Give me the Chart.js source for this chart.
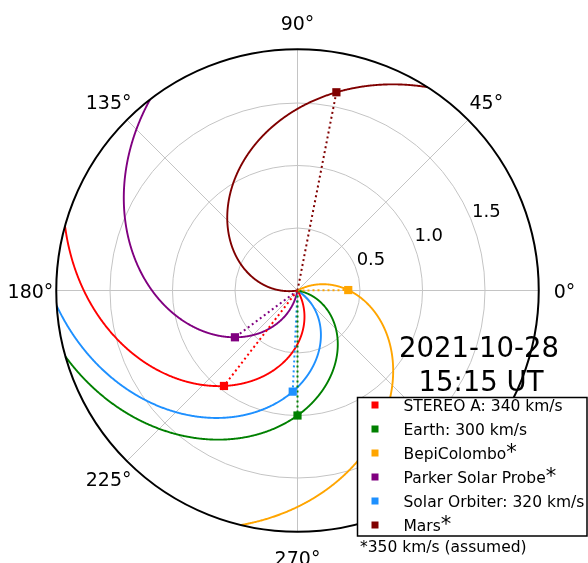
<!DOCTYPE html>
<html><head><meta charset="utf-8">
<script src="https://cdn.jsdelivr.net/npm/chart.js@4"></script>
<style>html,body{margin:0;padding:0;background:#fff;} #wrap{width:588px;height:563px;position:relative;}</style>
</head><body><div id="wrap"><canvas id="c" width="588" height="563"></canvas></div>
<script>
// ---- data ----
const bodies = ['STEREO A', 'Earth', 'BepiColombo', 'Parker Solar Probe', 'Solar Orbiter', 'Mars'];
const distances = [0.964, 1.0, 0.406, 0.625, 0.81, 1.616];      // AU
const longitudes = [232.4, 270.0, 0.5, 216.8, 267.3, 78.9];      // deg
const windSpeeds = [340, 300, 350, 350, 320, 350];               // km/s
const speedAssumed = [false, false, true, true, false, true];
const bodyColors = ['red', 'green', 'orange', 'purple', 'dodgerblue', 'maroon'];
const radialTicks = [0.5, 1.0, 1.5];
const radialTickLabels = ['0.5', '1.0', '1.5'];
const angleTicks = [0, 45, 90, 135, 180, 225, 270, 315];
const dateLines = ['2021-10-28', '15:15 UT'];
const footnote = '*350 km/s (assumed)';
const rMax = 1.93;
const rotK = 23900; // solar rotation rate x 1 AU, in deg·(km/s)/AU

const FONT = '"DejaVu Sans", sans-serif';
const rad = d => d * Math.PI / 180;
const pol = (r, phi) => ({ x: r * Math.cos(rad(phi)), y: r * Math.sin(rad(phi)) });

const datasets = [];
bodies.forEach((b, i) => {
  const spiral = [];
  const n = Math.round(rMax / 0.005);
  for (let k = 0; k <= n; k++) {
    const r = rMax * k / n;
    spiral.push(pol(r, longitudes[i] + rotK / windSpeeds[i] * (distances[i] - r)));
  }
  datasets.push({ label: b + ' marker', data: [pol(distances[i], longitudes[i])], pointStyle: 'rect',
    pointRadius: 5.8, backgroundColor: bodyColors[i], borderWidth: 0, order: 0 });
  datasets.push({ label: b + ' spiral', data: spiral, showLine: true, borderColor: bodyColors[i],
    borderWidth: 1.9, pointRadius: 0, fill: false, tension: 0.001, order: 2 });
  datasets.push({ label: b + ' radial', data: [pol(0, longitudes[i]), pol(distances[i], longitudes[i])],
    showLine: true, borderColor: bodyColors[i], borderWidth: 2, borderDash: [2, 3], pointRadius: 0, fill: false, order: 1 });
});

const cx = 297.5, cy = 290.5, pxPerAU = 125, W = 588, H = 563;

const polarGrid = {
  id: 'polarGrid',
  beforeDatasetsDraw(chart) {
    const ctx = chart.ctx, xs = chart.scales.x, ys = chart.scales.y;
    const X = v => xs.getPixelForValue(v), Y = v => ys.getPixelForValue(v);
    const ox = X(0), oy = Y(0);
    ctx.save();
    ctx.strokeStyle = '#c4c4c4'; ctx.lineWidth = 1;
    radialTicks.forEach(r => {
      ctx.beginPath(); ctx.arc(ox, oy, X(r) - ox, 0, 2 * Math.PI); ctx.stroke();
    });
    angleTicks.forEach(a => {
      const p = pol(rMax, a);
      ctx.beginPath(); ctx.moveTo(ox, oy); ctx.lineTo(X(p.x), Y(p.y)); ctx.stroke();
    });
    ctx.fillStyle = '#000'; ctx.textAlign = 'center'; ctx.textBaseline = 'alphabetic';
    ctx.font = '18px ' + FONT;
    radialTicks.forEach((r, i) => {
      const p = pol(r + 0.136, 22.5);
      ctx.fillText(radialTickLabels[i], X(p.x), Y(p.y) + 5);
    });
    ctx.font = '19px ' + FONT;
    angleTicks.forEach(a => {
      const p = pol(rMax * 1.107, a);
      ctx.fillText(a + '°', X(p.x), Y(p.y) + 7);
    });
    ctx.restore();
  },
  afterDatasetsDraw(chart) {
    const ctx = chart.ctx, xs = chart.scales.x, ys = chart.scales.y;
    const ox = xs.getPixelForValue(0), oy = ys.getPixelForValue(0);
    ctx.save();
    ctx.strokeStyle = '#000'; ctx.lineWidth = 2;
    ctx.beginPath(); ctx.arc(ox, oy, xs.getPixelForValue(rMax) - ox, 0, 2 * Math.PI); ctx.stroke();
    // date text
    ctx.fillStyle = '#000'; ctx.textAlign = 'center'; ctx.textBaseline = 'alphabetic';
    ctx.font = '27.5px ' + FONT;
    ctx.fillText(dateLines[0], 479, 357);
    ctx.fillText(dateLines[1], 481, 391);
    // legend box
    ctx.fillStyle = '#fff';
    ctx.fillRect(357.5, 397, 230, 139);
    ctx.strokeStyle = '#000'; ctx.lineWidth = 1.5;
    ctx.strokeRect(357.5, 397.5, 229.5, 138.5);
    ctx.textAlign = 'left';
    bodies.forEach((b, i) => {
      const y = 405 + 24 * i;
      ctx.fillStyle = bodyColors[i];
      ctx.fillRect(371.5, y - 3.5, 7, 7);
      ctx.fillStyle = '#000';
      ctx.font = '15.5px ' + FONT;
      const txt = speedAssumed[i] ? b : b + ': ' + windSpeeds[i] + ' km/s';
      ctx.fillText(txt, 403.5, y + 5.5);
      if (speedAssumed[i]) {
        const w = ctx.measureText(txt).width;
        ctx.font = '21px ' + FONT;
        ctx.fillText('*', 403.5 + w, y + 5.5);
      }
    });
    ctx.font = '15.5px ' + FONT;
    ctx.fillText(footnote, 360, 552);
    ctx.restore();
  }
};

new Chart(document.getElementById('c'), {
  type: 'scatter',
  data: { datasets },
  options: {
    responsive: false, animation: false, events: [],
    layout: { padding: 0, autoPadding: false },
    scales: {
      x: { type: 'linear', display: false, min: -cx / pxPerAU, max: (W - cx) / pxPerAU },
      y: { type: 'linear', display: false, min: -(H - cy) / pxPerAU, max: cy / pxPerAU }
    },
    plugins: { legend: { display: false }, tooltip: { enabled: false } }
  },
  plugins: [polarGrid]
});
</script>
</body></html>
